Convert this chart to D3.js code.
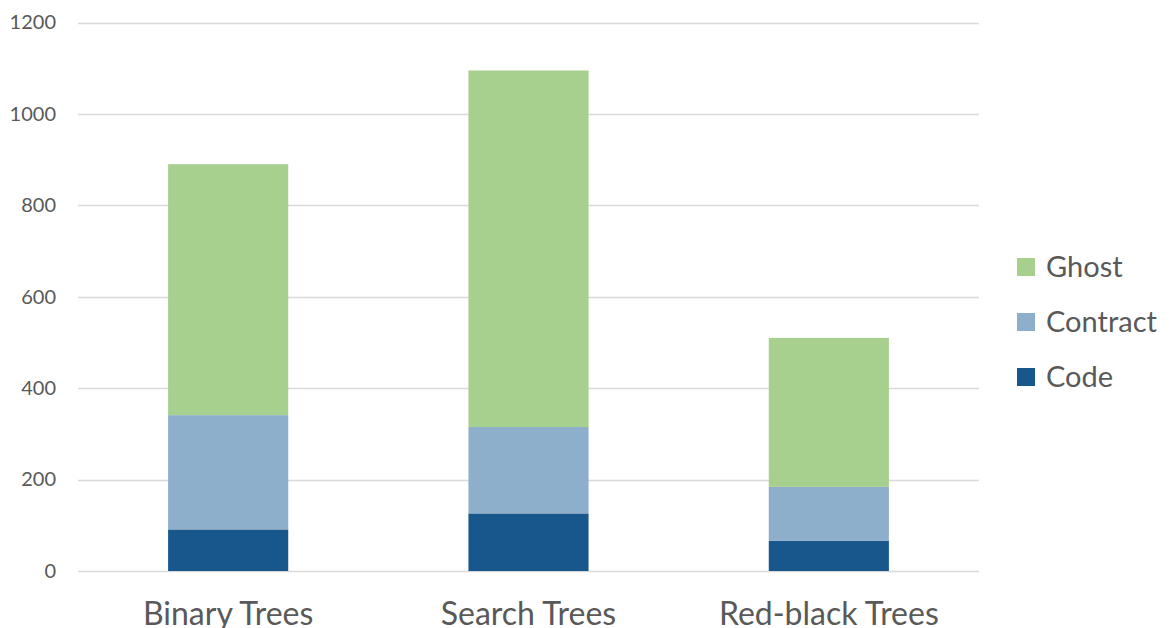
<!DOCTYPE html>
<html><head><meta charset="utf-8">
<script src="https://cdn.jsdelivr.net/npm/d3@7"></script>
<style>html,body{margin:0;padding:0;background:#fff;}svg{display:block;}</style>
</head><body>
<svg id="chart" width="1170" height="628"></svg>
<script>
const categories = ["Binary Trees", "Search Trees", "Red-black Trees"];
const seriesNames = ["Code", "Contract", "Ghost"];
const codeValues = [91, 126, 66];
const contractValues = [250, 189, 118];
const ghostValues = [549, 780, 326];
const yTicks = [0, 200, 400, 600, 800, 1000, 1200];
const colors = ["#17578b", "#8eafcc", "#a7cf8d"];

const svg = d3.select("#chart");
const margin = {left: 78, right: 1170 - 979, top: 22.5, bottom: 628 - 571};
const W = 1170, H = 628;
const font = "Lato, 'Open Sans', sans-serif";

const x = d3.scaleBand().domain(categories).range([margin.left, W - margin.right]).paddingInner(0.6).paddingOuter(0.3);
const y = d3.scaleLinear().domain([0, 1200]).range([H - margin.bottom, margin.top]);

const table = categories.map((c, i) => ({cat: c, Code: codeValues[i], Contract: contractValues[i], Ghost: ghostValues[i]}));
const stacked = d3.stack().keys(seriesNames)(table);

// gridlines
svg.append("g").selectAll("line").data(yTicks).join("line")
  .attr("x1", margin.left).attr("x2", W - margin.right)
  .attr("y1", d => Math.round(y(d)) + 0.5).attr("y2", d => Math.round(y(d)) + 0.5)
  .attr("stroke", "#d9d9d9").attr("stroke-width", 1.5);

// y axis labels
const yAxis = svg.append("g").attr("transform", `translate(${margin.left},0)`)
  .call(d3.axisLeft(y).tickValues(yTicks).tickFormat(d3.format("d")).tickSize(0).tickPadding(22));
yAxis.select(".domain").remove();
yAxis.selectAll("text").attr("fill", "#595959").style("font-family", font).style("font-size", "20px");

// bars
svg.append("g").selectAll("g").data(stacked).join("g")
  .attr("fill", (d, i) => colors[i])
  .selectAll("rect").data(d => d).join("rect")
  .attr("x", d => x(d.data.cat))
  .attr("width", x.bandwidth())
  .attr("y", d => y(d[1]))
  .attr("height", d => y(d[0]) - y(d[1]));

// x axis labels
const xAxis = svg.append("g").attr("transform", `translate(0,${H - margin.bottom})`)
  .call(d3.axisBottom(x).tickSize(0));
xAxis.select(".domain").remove();
xAxis.selectAll("text").attr("y", 54).attr("dy", null)
  .attr("fill", "#595959").style("font-family", font).style("font-size", "32px");

// legend
const legendOrder = ["Ghost", "Contract", "Code"];
const leg = svg.append("g").selectAll("g").data(legendOrder).join("g")
  .attr("transform", (d, i) => `translate(1017,${267 + i * 55})`);
leg.append("rect").attr("x", 0).attr("y", -9).attr("width", 18).attr("height", 18)
  .attr("fill", d => colors[seriesNames.indexOf(d)]);
leg.append("text").attr("x", 29).attr("y", 0).attr("dy", "0.36em")
  .attr("fill", "#595959").style("font-family", font).style("font-size", "29px").text(d => d);
</script>
</body></html>
